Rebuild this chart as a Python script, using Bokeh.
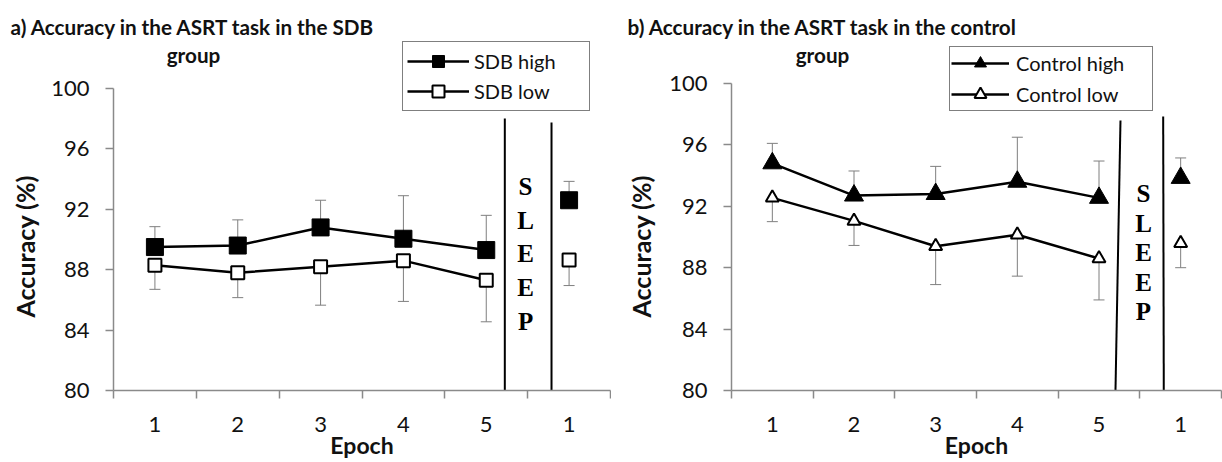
from bokeh.plotting import figure
from bokeh.layouts import row
from bokeh.models import (ColumnDataSource, Whisker, TeeHead, FixedTicker, Legend,
                          LegendItem, Label, Range1d, Title)
from bokeh.embed import file_html
from bokeh.resources import INLINE
from bokeh.core.properties import value

# ---------------- data ----------------
epoch_labels = ["1", "2", "3", "4", "5", "1"]
epoch_pos = [1, 2, 3, 4, 5, 6]          # 6th position = epoch 1 after sleep

sdb_high = [89.5, 89.6, 90.8, 90.05, 89.3, 92.6]
sdb_high_err = [1.35, 1.7, 1.8, 2.85, 2.3, 1.25]
sdb_low = [88.3, 87.8, 88.2, 88.6, 87.3, 88.65]
sdb_low_err = [1.6, 1.65, 2.55, 2.7, 2.75, 1.7]

ctrl_high = [94.8, 92.7, 92.8, 93.6, 92.55, 93.85]
ctrl_high_err = [1.3, 1.6, 1.8, 2.9, 2.4, 1.3]
ctrl_low = [92.55, 91.05, 89.4, 90.15, 88.6, 89.6]
ctrl_low_err = [1.55, 1.6, 2.5, 2.7, 2.7, 1.6]

y_ticks = [80, 84, 88, 92, 96, 100]

FONT = "Lato"
SERIF = "Liberation Serif"
AXIS_COLOR = "#8a8a8a"
ERR_COLOR = "#7f7f7f"
TXT = "#111111"

FIG_W, FIG_H = 611, 462
FRAME_TOP = 38          # page px of frame top
FRAME_BOTTOM = 390      # page px of x axis


def make_panel(title1, title2, high, high_err, low, low_err, names, markers,
               marker_sizes, x0, px_x, px_y, title_offset, title2_x, title2_base,
               ylab_standoff, sleep_lines, sleep_x, sleep_y0, sleep_step, leg_left,
               leg_bottom, leg_glyph_w, leg_pad, leg_spacing, leg_standoff,
               leg_label_w):
    def dx(px):
        return 0.5 + (px - x0) / px_x

    def dy(py):
        return 80 + (FRAME_BOTTOM - py) / px_y

    p = figure(width=FIG_W, height=FIG_H, output_backend="svg", toolbar_location=None,
               x_range=Range1d(0.5, 6.5), y_range=Range1d(80, dy(FRAME_TOP)),
               min_border_left=int(round(x0 - (0 if x0 < FIG_W else FIG_W))),
               min_border_right=1, min_border_top=FRAME_TOP,
               min_border_bottom=FIG_H - FRAME_BOTTOM)
    p.background_fill_color = "white"
    p.border_fill_color = "white"
    p.outline_line_color = None
    p.xgrid.visible = False
    p.ygrid.visible = False

    # y axis
    p.yaxis.ticker = FixedTicker(ticks=y_ticks)
    p.yaxis.bounds = (80, 100)
    p.yaxis.major_tick_out = 8
    p.yaxis.major_tick_in = 0
    p.yaxis.minor_tick_out = 0
    p.yaxis.minor_tick_in = 0
    p.yaxis.major_label_standoff = 16

    # x axis
    p.xaxis.ticker = FixedTicker(ticks=epoch_pos,
                                 minor_ticks=[0.5 + i for i in range(7)])
    p.xaxis.major_label_overrides = {i: lab for i, lab in zip(epoch_pos, epoch_labels)}
    p.xaxis.axis_label = "Epoch"
    p.xaxis.major_tick_out = 0
    p.xaxis.major_tick_in = 0
    p.xaxis.minor_tick_out = 8
    p.xaxis.minor_tick_in = 0
    p.xaxis.major_label_standoff = 18
    p.xaxis.axis_label_standoff = -4

    for ax in (p.xaxis[0], p.yaxis[0]):
        ax.axis_line_color = AXIS_COLOR
        ax.axis_line_width = 1.5
        ax.major_tick_line_color = AXIS_COLOR
        ax.major_tick_line_width = 1.5
        ax.minor_tick_line_color = AXIS_COLOR
        ax.minor_tick_line_width = 1.5
        ax.major_label_text_font = FONT
        ax.major_label_text_font_size = "22px"
        ax.major_label_text_color = TXT
        ax.axis_label_text_font = FONT
        ax.axis_label_text_font_style = "bold"
        ax.axis_label_text_color = TXT
    p.xaxis.axis_label_text_font_size = "23px"

    # y-axis title centred on the 80-100 span (placed beside the axis)
    p.add_layout(Title(text="Accuracy (%)", align="left", offset=73,
                       vertical_align="top", standoff=ylab_standoff, text_font=FONT,
                       text_font_style="bold", text_font_size="25px",
                       text_color=TXT), "left")

    # error bars (one-sided)
    src_hi = ColumnDataSource(dict(x=epoch_pos, lo=high,
                                   hi=[v + e for v, e in zip(high, high_err)]))
    src_lo = ColumnDataSource(dict(x=epoch_pos, hi=low,
                                   lo=[v - e for v, e in zip(low, low_err)]))
    p.add_layout(Whisker(source=src_hi, base="x", upper="hi", lower="lo",
                         dimension="height", line_color=ERR_COLOR, line_width=1,
                         upper_head=TeeHead(size=11, line_color=ERR_COLOR, line_width=1),
                         lower_head=None))
    p.add_layout(Whisker(source=src_lo, base="x", upper="hi", lower="lo",
                         dimension="height", line_color=ERR_COLOR, line_width=1,
                         lower_head=TeeHead(size=11, line_color=ERR_COLOR, line_width=1),
                         upper_head=None))

    # lines (pre-sleep epochs only) and markers
    l_hi = p.line(epoch_pos[:5], high[:5], line_color="black", line_width=2.5)
    l_lo = p.line(epoch_pos[:5], low[:5], line_color="black", line_width=2.5)
    s_hi = p.scatter(epoch_pos, high, marker=markers[0], size=marker_sizes[0],
                     fill_color="black", line_color="black", line_width=1)
    s_lo = p.scatter(epoch_pos, low, marker=markers[1], size=marker_sizes[1],
                     fill_color="white", line_color="black", line_width=2)

    # SLEEP separator
    xb, xt, yt = sleep_lines
    p.segment(x0=[dx(v) for v in xb], y0=[80, 80], x1=[dx(v) for v in xt],
              y1=[dy(v) for v in yt], line_color="black", line_width=2)
    p.text(x=[dx(sleep_x)] * 5, y=[dy(sleep_y0 + i * sleep_step) for i in range(5)],
           text=list("SLEEP"), text_font=value(SERIF), text_font_style="bold",
           text_font_size="25px", text_align="center", text_baseline="middle",
           text_color="black")

    # title: first line in the top panel, second line centred inside
    p.add_layout(Title(text=title1, align="left", offset=title_offset,
                       vertical_align="bottom", standoff=0, text_font=FONT,
                       text_font_style="bold", text_font_size="20.7px",
                       text_color=TXT), "above")
    p.add_layout(Label(x=dx(title2_x), y=dy(title2_base), text=title2, text_font=FONT,
                       text_font_style="bold", text_font_size="20.7px",
                       text_align="center", text_baseline="alphabetic",
                       text_color=TXT))

    legend = Legend(items=[LegendItem(label=names[0], renderers=[l_hi, s_hi]),
                           LegendItem(label=names[1], renderers=[l_lo, s_lo])],
                    location=(leg_left - x0, FRAME_BOTTOM - leg_bottom), margin=0,
                    padding=leg_pad, spacing=leg_spacing,
                    glyph_width=leg_glyph_w, glyph_height=30, label_height=30,
                    label_standoff=leg_standoff, label_width=leg_label_w,
                    label_text_font=FONT, label_text_font_size="20px",
                    label_text_color=TXT,
                    border_line_color="black", border_line_width=1.5,
                    background_fill_color="white", background_fill_alpha=1.0)
    p.add_layout(legend, "center")
    return p


# left panel (reference pixel geometry)
p1 = make_panel("a) Accuracy in the ASRT task in the SDB", "group",
                sdb_high, sdb_high_err, sdb_low, sdb_low_err,
                ("SDB high", "SDB low"), ("square", "square"), (17, 13),
                x0=113, px_x=82.83, px_y=15.1, title_offset=-103,
                title2_x=193, title2_base=54, ylab_standoff=13,
                sleep_lines=([504.3, 551], [504.3, 551], [118, 122]),
                sleep_x=525, sleep_y0=186, sleep_step=33.7,
                leg_left=402, leg_bottom=111, leg_glyph_w=62, leg_pad=4,
                leg_spacing=0, leg_standoff=5, leg_label_w=111)

p2 = make_panel("b) Accuracy in the ASRT task in the control", "group",
                ctrl_high, ctrl_high_err, ctrl_low, ctrl_low_err,
                ("Control high", "Control low"), ("triangle", "triangle"), (19, 13),
                x0=731, px_x=81.67, px_y=15.35, title_offset=-104,
                title2_x=822, title2_base=54, ylab_standoff=18,
                sleep_lines=([1115, 1163.3], [1120, 1162.7], [120, 116]),
                sleep_x=1143, sleep_y0=193, sleep_step=29.5,
                leg_left=949, leg_bottom=111, leg_glyph_w=58, leg_pad=1,
                leg_spacing=1, leg_standoff=7, leg_label_w=135)

layout = row(p1, p2)
open("out.html", "w").write(file_html(layout, INLINE))
